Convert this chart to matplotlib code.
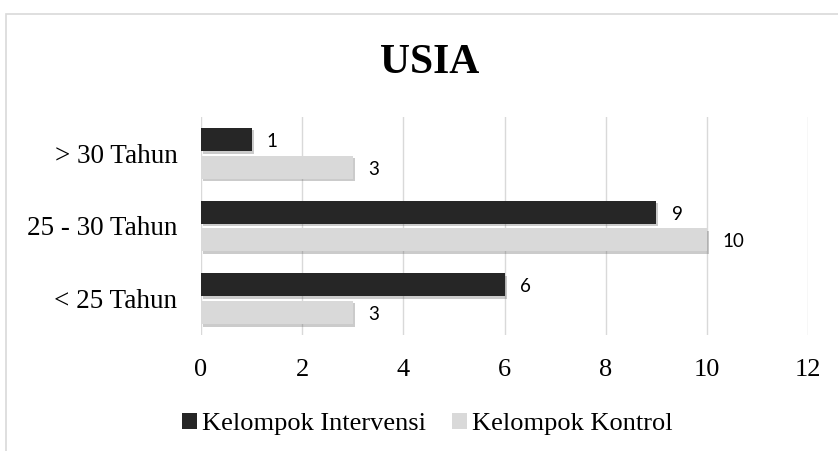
#!/usr/bin/env python3
# Horizontal grouped bar chart "USIA" (age groups, intervention vs control)

import numpy as np
import matplotlib
matplotlib.use("Agg")
import matplotlib.pyplot as plt
import matplotlib.patheffects as pe
from matplotlib.patches import Rectangle, Patch

# data
categories = ["< 25 Tahun", "25 - 30 Tahun", "> 30 Tahun"]
intervensi = [6, 9, 1]
kontrol = [3, 10, 3]
series_names = ["Kelompok Intervensi", "Kelompok Kontrol"]
x_ticks = [0, 2, 4, 6, 8, 10, 12]

DARK = "#262626"
LIGHT = "#d9d9d9"
GRID = "#d9d9d9"
SERIF = "Liberation Serif"

fig = plt.figure(figsize=(8.38, 4.51), dpi=100)
ax = fig.add_axes([0.2399, 0.2572, 0.7243, 0.4834])

# outer chart frame (runs off right/bottom like the cropped source)
fig.patches.append(Rectangle((0.0072, -0.2), 1.2, 1.169, transform=fig.transFigure,
                             fill=False, edgecolor=GRID, linewidth=1.2, zorder=0))

y = np.arange(len(categories))
h = 0.32
off = 0.19
shadow = [pe.SimplePatchShadow(offset=(1.5, -1.8), alpha=0.3, shadow_rgbFace="#555555"), pe.Normal()]

b1 = ax.barh(y + off, intervensi, height=h, color=DARK, zorder=3)
b2 = ax.barh(y - off, kontrol, height=h, color=LIGHT, zorder=3)
for bars in (b1, b2):
    for p in bars:
        p.set_path_effects(shadow)

for bars, vals in ((b1, intervensi), (b2, kontrol)):
    for p, v in zip(bars, vals):
        ax.annotate(str(v), (v, p.get_y() + p.get_height() / 2), xytext=(11, -1.5),
                    textcoords="offset points", ha="left", va="center",
                    fontsize=13.5, family="Lato", color="black")

ax.set_xlim(0, 12)
ax.set_ylim(-0.5, 2.5)
ax.set_xticks(x_ticks)
ax.set_xticklabels([str(t) for t in x_ticks], family=SERIF, fontsize=19)
ax.set_yticks(y)
ax.set_yticklabels(categories, family=SERIF, fontsize=19.5)
ax.tick_params(axis="x", length=0, pad=17)
ax.tick_params(axis="y", length=0, pad=17)
ax.grid(axis="x", color=GRID, linewidth=1, zorder=0)
ax.set_axisbelow(True)
for s in ax.spines.values():
    s.set_visible(False)

fig.text(0.513, 0.86, "USIA", ha="center", va="center", family=SERIF,
         fontweight="bold", fontsize=30)

handles = [Patch(facecolor=DARK), Patch(facecolor=LIGHT)]
fig.legend(handles=handles, labels=series_names, loc="center",
           bbox_to_anchor=(0.510, 0.06), ncol=2, frameon=False,
           prop={"family": SERIF, "size": 19}, handlelength=0.55, handleheight=0.55,
           handletextpad=0.2, columnspacing=1.0)

fig.savefig("out.png", dpi=100)
